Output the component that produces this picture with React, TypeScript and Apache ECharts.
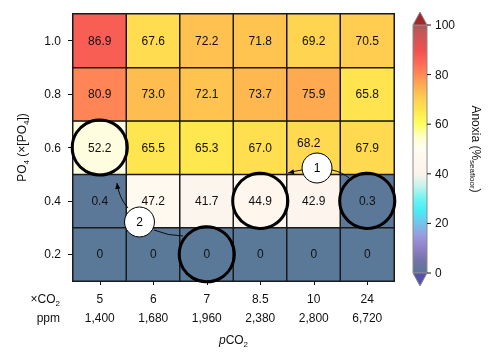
import React, { useEffect, useRef } from 'react';
import * as echarts from 'echarts';

// x categories (×CO2) and matching pCO2 in ppm
const xCO2 = ['5', '6', '7', '8.5', '10', '24'];
const ppm = ['1,400', '1,680', '1,960', '2,380', '2,800', '6,720'];
// y categories PO4 (×[PO4]) bottom -> top
const po4 = ['0.2', '0.4', '0.6', '0.8', '1.0'];
// Anoxia (% seafloor), one array per PO4 row
const row02 = [0, 0, 0, 0, 0, 0];
const row04 = [0.4, 47.2, 41.7, 44.9, 42.9, 0.3];
const row06 = [52.2, 65.5, 65.3, 67.0, 68.2, 67.9];
const row08 = [80.9, 73.0, 72.1, 73.7, 75.9, 65.8];
const row10 = [86.9, 67.6, 72.2, 71.8, 69.2, 70.5];
const rows = [row02, row04, row06, row08, row10];
// colour bar ticks
const colorTicks = [0, 20, 40, 60, 80, 100];
// colour ramp, evenly spaced from 0 to 100
const ramp = [
  '#5a7898', '#7472a8', '#9080c8', '#9a9ade', '#74c4ec', '#48ecf6', '#70f4f2',
  '#c4f4ea', '#fbf4ec', '#fff6ee', '#fffcf2', '#ffffc8', '#ffff60', '#ffe850',
  '#ffd050', '#ffb050', '#ff8a55', '#ff6658', '#f05050', '#d05454', '#b05858',
];
// circled cells [xIndex, yIndex]
const circled = [[0, 2], [3, 1], [5, 1], [2, 0]];

const FONT = '"Liberation Sans", Arial, Helvetica, sans-serif';

export default function App() {
  const ref = useRef<HTMLDivElement>(null);
  useEffect(() => {
    if (!ref.current) return;
    const chart = echarts.init(ref.current, undefined, { renderer: 'svg' });
    const data: any[] = [];
    rows.forEach((r, yi) =>
      r.forEach((v, xi) => {
        const item: any = { value: [xi, yi, v] };
        if (yi === 2 && xi === 4) item.label = { offset: [-5, -5] };
        data.push(item);
      })
    );
    chart.setOption({
      animation: false,
      textStyle: { fontFamily: FONT },
      grid: { left: 73, top: 14, width: 321, height: 267 },
      xAxis: {
        type: 'category',
        data: xCO2,
        name: '{i|p}{a|CO}{s|2}',
        nameLocation: 'middle',
        nameGap: 51,
        nameTextStyle: {
          rich: {
            i: { fontSize: 12, fontStyle: 'italic', color: '#111', lineHeight: 16, fontFamily: FONT },
            a: { fontSize: 12, color: '#111', lineHeight: 16, fontFamily: FONT },
            s: { fontSize: 8, color: '#111', lineHeight: 10, verticalAlign: 'bottom', fontFamily: FONT },
          },
        },
        axisLine: { show: true, lineStyle: { color: '#111', width: 1 } },
        axisTick: { show: true, alignWithLabel: true, length: 4, lineStyle: { color: '#111' } },
        axisLabel: {
          margin: 8,
          color: '#111',
          fontSize: 12,
          lineHeight: 19,
          fontFamily: FONT,
          formatter: (v: string, i: number) => `${v}\n${ppm[i]}`,
        },
        splitLine: { show: false },
      },
      yAxis: {
        type: 'category',
        data: po4,
        name: '{a|PO}{s|4}{a| (×[PO}{s|4}{a|])}',
        nameLocation: 'middle',
        nameRotate: 90,
        nameGap: 43,
        nameTextStyle: {
          rich: {
            a: { fontSize: 12, color: '#111', lineHeight: 16, fontFamily: FONT },
            s: { fontSize: 8, color: '#111', lineHeight: 10, verticalAlign: 'bottom', fontFamily: FONT },
          },
        },
        axisLine: { show: true, lineStyle: { color: '#111', width: 1 } },
        axisTick: { show: true, alignWithLabel: true, length: 5, lineStyle: { color: '#111' } },
        axisLabel: { margin: 12, color: '#111', fontSize: 12, fontFamily: FONT },
        splitLine: { show: false },
      },
      visualMap: {
        show: false,
        type: 'continuous',
        min: 0,
        max: 100,
        dimension: 2,
        inRange: { color: ramp },
      },
      series: [
        {
          type: 'heatmap',
          data,
          itemStyle: { borderColor: '#1a1a1a', borderWidth: 1.5 },
          label: {
            show: true,
            color: '#111',
            fontSize: 12,
            fontFamily: FONT,
            formatter: (p: any) => {
              const v = p.value[2];
              return v === 0 ? '0' : v.toFixed(1);
            },
          },
          emphasis: { disabled: true },
        },
      ],
    });

    const p0 = chart.convertToPixel({ gridIndex: 0 }, [xCO2[0], po4[0]]) as number[];
    const p1 = chart.convertToPixel({ gridIndex: 0 }, [xCO2[1], po4[1]]) as number[];
    const dx = p1[0] - p0[0];
    const dy = p1[1] - p0[1];
    const P = (fx: number, fy: number) => [p0[0] + fx * dx, p0[1] + fy * dy];

    const g: any[] = [];
    circled.forEach(([xi, yi]) => {
      const [cx, cy] = P(xi, yi);
      g.push({
        type: 'circle', z: 100,
        shape: { cx, cy, r: dx * 0.515 },
        style: { fill: 'none', stroke: '#000', lineWidth: 3 },
      });
    });

    const arrowHead = (tip: number[], from: number[]) => {
      const ang = Math.atan2(tip[1] - from[1], tip[0] - from[0]);
      const L = 6, W = 2.6;
      const bx = tip[0] - L * Math.cos(ang), by = tip[1] - L * Math.sin(ang);
      const nx = -Math.sin(ang) * W, ny = Math.cos(ang) * W;
      return {
        type: 'polygon', z: 102,
        shape: { points: [tip, [bx + nx, by + ny], [bx - nx, by - ny]] },
        style: { fill: '#000' },
      };
    };
    const curve = (a: number[], c: number[], b: number[]) => ({
      type: 'bezierCurve', z: 101,
      shape: { x1: a[0], y1: a[1], cpx1: c[0], cpy1: c[1], x2: b[0], y2: b[1] },
      style: { fill: 'none', stroke: '#000', lineWidth: 0.9 },
    });

    // arrow 1
    const a1s = P(3.78, 1.579), a1t = P(3.519, 1.522);
    g.push(curve(a1s, P(3.65, 1.56), a1t));
    g.push(arrowHead(a1t, P(3.65, 1.55)));
    g.push(curve(P(4.341, 1.579), P(4.528, 1.542), P(4.659, 1.429)));
    // arrow 2
    const a2s = P(0.528, 0.867), a2c = P(0.36, 1.054), a2t = P(0.322, 1.335);
    g.push(curve(a2s, a2c, a2t));
    g.push(arrowHead(a2t, a2c));
    g.push(curve(P(1.014, 0.455), P(1.278, 0.343), P(1.556, 0.343)));

    const badge = (fx: number, fy: number, t: string) => {
      const [cx, cy] = P(fx, fy);
      g.push({
        type: 'circle', z: 103,
        shape: { cx, cy, r: 15 },
        style: { fill: '#fff', stroke: '#000', lineWidth: 1 },
      });
      g.push({
        type: 'text', z: 104, x: cx, y: cy,
        style: { text: t, fill: '#000', font: `12px ${FONT}`, align: 'center', verticalAlign: 'middle' },
      });
    };
    badge(4.061, 1.616, '1');
    badge(0.743, 0.605, '2');

    // left labels for the two x label rows
    g.push({
      type: 'text', z: 100, x: 60, y: 299,
      style: {
        text: '{a|×CO}{s|2}', align: 'right', verticalAlign: 'middle',
        rich: {
          a: { fontSize: 12, fill: '#111', lineHeight: 16, fontFamily: FONT },
          s: { fontSize: 8, fill: '#111', lineHeight: 10, verticalAlign: 'bottom', fontFamily: FONT },
        },
      },
    });
    g.push({
      type: 'text', z: 100, x: 60, y: 318,
      style: { text: 'ppm', fill: '#111', font: `12px ${FONT}`, align: 'right', verticalAlign: 'middle' },
    });

    // colour bar
    const barX = 413, barW = 14, barTop = 25, barBot = 273;
    const stops = ramp.map((c, i) => ({ offset: 1 - i / (ramp.length - 1), color: c })).reverse();
    g.push({
      type: 'rect', z: 100,
      shape: { x: barX, y: barTop, width: barW, height: barBot - barTop },
      style: { fill: new echarts.graphic.LinearGradient(0, 0, 0, 1, stops), stroke: '#8a8a8a', lineWidth: 1 },
    });
    g.push({
      type: 'polygon', z: 100,
      shape: { points: [[barX, barTop], [barX + barW, barTop], [barX + barW / 2, barTop - 13]] },
      style: { fill: '#a02828', stroke: '#8a8a8a', lineWidth: 1 },
    });
    g.push({
      type: 'polygon', z: 100,
      shape: { points: [[barX, barBot], [barX + barW, barBot], [barX + barW / 2, barBot + 13]] },
      style: { fill: '#5652a8', stroke: '#8a8a8a', lineWidth: 1 },
    });
    colorTicks.forEach((t) => {
      const y = barBot - (t / 100) * (barBot - barTop);
      g.push({
        type: 'line', z: 101,
        shape: { x1: barX + barW, y1: y, x2: barX + barW + 4, y2: y },
        style: { stroke: '#111', lineWidth: 1 },
      });
      g.push({
        type: 'text', z: 101, x: barX + barW + 8, y,
        style: { text: String(t), fill: '#111', font: `12px ${FONT}`, align: 'left', verticalAlign: 'middle' },
      });
    });
    g.push({
      type: 'text', z: 101, x: 476, y: 149, rotation: -Math.PI / 2,
      style: {
        text: '{a|Anoxia (%}{s|seafloor}{a|)}', align: 'center', verticalAlign: 'middle',
        rich: {
          a: { fontSize: 12, fill: '#111', lineHeight: 16, fontFamily: FONT },
          s: { fontSize: 8, fill: '#111', lineHeight: 10, verticalAlign: 'bottom', fontFamily: FONT },
        },
      },
    });

    chart.setOption({ graphic: g });
    return () => chart.dispose();
  }, []);
  return <div ref={ref} style={{ position: 'fixed', left: 0, top: 0, width: 502, height: 357 }} />;
}
